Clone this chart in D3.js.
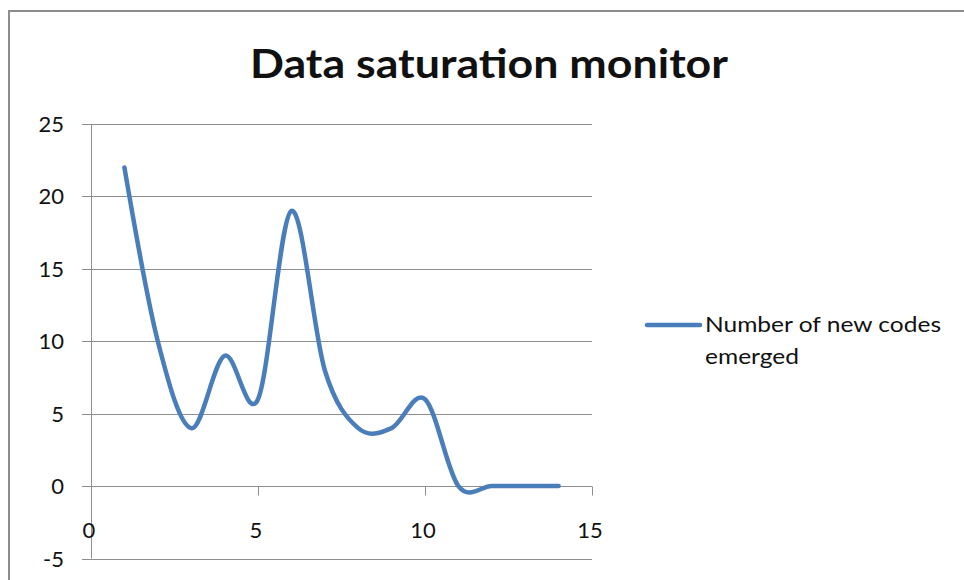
<!DOCTYPE html>
<html>
<head>
<meta charset="utf-8" />
<title>Data saturation monitor</title>
<script src="https://cdnjs.cloudflare.com/ajax/libs/d3/7.8.5/d3.min.js"></script>
<style>
html, body {
    margin: 0;
    padding: 0;
    background: #fff;
}
svg text {
    font-family: Lato, "Open Sans", sans-serif;
    fill: #111;
}
</style>
</head>
<body>
<div id="chart"></div>
<script>
// data
var interviews = [1, 2, 3, 4, 5, 6, 7, 8, 9, 10, 11, 12, 13, 14]
var newCodes   = [22, 10, 4, 9, 6, 19, 8, 4, 4, 6, 0, 0, 0, 0]
var xTicks = [0, 5, 10, 15]
var yTicks = [25, 20, 15, 10, 5, 0, -5]
var seriesName = ["Number of new codes", "emerged"]
var title = "Data saturation monitor"

var W = 964, H = 580

var svg = d3.select("#chart").append("svg")
    .attr("width", W)
    .attr("height", H)

// chart frame
svg.append("path")
    .attr("d", "M9," + H + "V11H" + W)
    .attr("fill", "none")
    .attr("stroke", "#8c8c8c")
    .attr("stroke-width", 2)

var x = d3.scaleLinear().domain([0, 15]).range([91, 592])
var y = d3.scaleLinear().domain([-5, 25]).range([558.5, 124])

// horizontal gridlines
svg.append("g").selectAll("line")
    .data(yTicks)
    .enter()
    .append("line")
    .attr("x1", 82)
    .attr("x2", x(15))
    .attr("y1", function(d){ return Math.round(y(d)) + 0.5 })
    .attr("y2", function(d){ return Math.round(y(d)) + 0.5 })
    .attr("stroke", "#8e8e8e")
    .attr("stroke-width", 1)

// y axis line
svg.append("line")
    .attr("x1", x(0) + 0.5).attr("x2", x(0) + 0.5)
    .attr("y1", y(25)).attr("y2", y(-5))
    .attr("stroke", "#8e8e8e")

// x axis at y = 0
var x0 = Math.round(y(0)) + 0.5
svg.append("g").selectAll("line")
    .data(xTicks.slice(1))
    .enter()
    .append("line")
    .attr("x1", function(d){ return Math.round(x(d)) + 0.5 })
    .attr("x2", function(d){ return Math.round(x(d)) + 0.5 })
    .attr("y1", x0)
    .attr("y2", x0 + 9)
    .attr("stroke", "#8e8e8e")

// tick labels
svg.append("g").selectAll("text")
    .data(yTicks)
    .enter()
    .append("text")
    .attr("x", 64)
    .attr("y", function(d){ return y(d) + 8 })
    .attr("text-anchor", "end")
    .style("font-size", "22px")
    .text(function(d){ return d })

svg.append("g").selectAll("text")
    .data(xTicks)
    .enter()
    .append("text")
    .attr("x", function(d){ return x(d) - 2 })
    .attr("y", 538)
    .attr("text-anchor", "middle")
    .style("font-size", "22px")
    .text(function(d){ return d })

// smoothed line (Excel style smoothing)
var line = d3.line()
    .x(function(d){ return x(d[0]) })
    .y(function(d){ return y(d[1]) })
    .curve(d3.curveCardinal.tension(0))

svg.append("path")
    .datum(d3.zip(interviews, newCodes))
    .attr("d", line)
    .attr("fill", "none")
    .attr("stroke", "#4a7ebb")
    .attr("stroke-width", 4.5)
    .attr("stroke-linecap", "round")
    .attr("stroke-linejoin", "round")

// title
var t = svg.append("text")
    .attr("x", 489)
    .attr("y", 78)
    .attr("text-anchor", "middle")
    .style("font-size", "40px")
    .style("font-weight", "bold")
    .text(title)
fitWidth(t, 478)

// legend
svg.append("line")
    .attr("x1", 647).attr("x2", 700)
    .attr("y1", 325).attr("y2", 325)
    .attr("stroke", "#4a7ebb")
    .attr("stroke-width", 4.5)
    .attr("stroke-linecap", "round")

var leg = svg.append("g").selectAll("text")
    .data(seriesName)
    .enter()
    .append("text")
    .attr("x", 705)
    .attr("y", function(d, i){ return 332 + i * 32 })
    .style("font-size", "21px")
    .text(function(d){ return d })
fitWidth(d3.select(leg.nodes()[0]), 236)
fitWidth(d3.select(leg.nodes()[1]), 94)

function fitWidth(sel, w) {
    var len = sel.node().getComputedTextLength()
    if (Math.abs(len - w) > 4) {
        sel.attr("textLength", w).attr("lengthAdjust", "spacingAndGlyphs")
    }
}
</script>
</body>
</html>
